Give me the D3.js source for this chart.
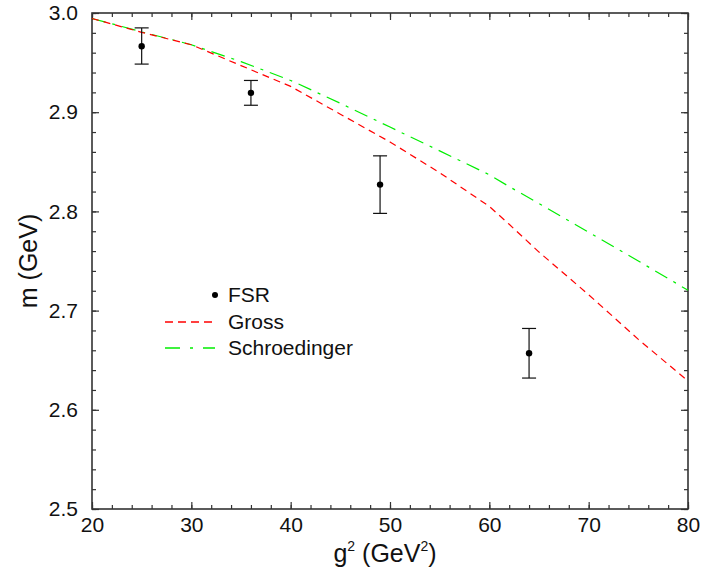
<!DOCTYPE html>
<html><head><meta charset="utf-8">
<script src="https://cdn.jsdelivr.net/npm/d3@7"></script>
<style>body{margin:0;background:#fff;} svg{display:block;font-family:"Liberation Sans",Arial,sans-serif;}</style>
</head><body>
<svg id="c" width="702" height="571"></svg>
<script>
// data
const fsrX = [25, 36, 49, 64];
const fsrY = [2.9665, 2.9195, 2.827, 2.657];
const fsrLo = [2.9485, 2.907, 2.798, 2.632];
const fsrHi = [2.985, 2.932, 2.856, 2.682];
const grossX = [20, 25, 30, 35, 40, 45, 50, 55, 60, 62, 65, 70, 75, 80];
const grossY = [2.9945, 2.9805, 2.968, 2.947, 2.926, 2.898, 2.870, 2.839, 2.805, 2.787, 2.759, 2.716, 2.671, 2.629];
const schX = [20, 25, 30, 35, 40, 45, 50, 55, 60, 62, 65, 70, 75, 80];
const schY = [2.9945, 2.981, 2.968, 2.951, 2.932, 2.909, 2.885, 2.861, 2.837, 2.825, 2.808, 2.779, 2.750, 2.7205];
const xTicks = [20, 30, 40, 50, 60, 70, 80];
const yTicks = [2.5, 2.6, 2.7, 2.8, 2.9, 3.0];
const legendLabels = ["FSR", "Gross", "Schroedinger"];

const svg = d3.select("#c");
const L = 92, R = 688, T = 13, B = 509;
const x = d3.scaleLinear().domain([20, 80]).range([L, R]);
const y = d3.scaleLinear().domain([2.5, 3.0]).range([B, T]);
const axisColor = "#333";
const FONT = '"Liberation Sans",Arial,sans-serif';

// minor ticks
const xMinor = d3.range(20, 80.001, 2);
const yMinor = d3.range(2.5, 3.0001, 0.02);

svg.append("g").attr("transform", `translate(0,${B})`)
  .call(d3.axisBottom(x).tickValues(xMinor).tickSize(-4).tickFormat(""));
svg.append("g").attr("transform", `translate(0,${B})`)
  .call(d3.axisBottom(x).tickValues(xTicks).tickSize(-7).tickPadding(8).tickFormat(d3.format("d")));
svg.append("g").attr("transform", `translate(0,${T})`)
  .call(d3.axisTop(x).tickValues(xMinor).tickSize(-4).tickFormat(""));
svg.append("g").attr("transform", `translate(0,${T})`)
  .call(d3.axisTop(x).tickValues(xTicks).tickSize(-7).tickFormat(""));
svg.append("g").attr("transform", `translate(${L},0)`)
  .call(d3.axisLeft(y).tickValues(yMinor).tickSize(-4).tickFormat(""));
svg.append("g").attr("transform", `translate(${L},0)`)
  .call(d3.axisLeft(y).tickValues(yTicks).tickSize(-7).tickPadding(14).tickFormat(d3.format(".1f")));
svg.append("g").attr("transform", `translate(${R},0)`)
  .call(d3.axisRight(y).tickValues(yMinor).tickSize(-4).tickFormat(""));
svg.append("g").attr("transform", `translate(${R},0)`)
  .call(d3.axisRight(y).tickValues(yTicks).tickSize(-7).tickFormat(""));

svg.selectAll(".domain").remove();
svg.selectAll(".tick line").attr("stroke", axisColor).attr("stroke-width", 1.2);
svg.selectAll(".tick text").attr("font-size", 21).attr("fill", "#111").attr("font-family", FONT);

// frame
svg.append("rect").attr("x", L).attr("y", T).attr("width", R - L).attr("height", B - T)
  .attr("fill", "none").attr("stroke", axisColor).attr("stroke-width", 1.6);

// curves
const line = d3.line().x(d => x(d[0])).y(d => y(d[1]));
svg.append("path").datum(schX.map((v, i) => [v, schY[i]]))
  .attr("d", line).attr("fill", "none").attr("stroke", "#00ee00").attr("stroke-width", 1.2)
  .attr("stroke-dasharray", "14,7,3,7");
svg.append("path").datum(grossX.map((v, i) => [v, grossY[i]]))
  .attr("d", line).attr("fill", "none").attr("stroke", "#ff0000").attr("stroke-width", 1.2)
  .attr("stroke-dasharray", "7,5");

// FSR points with error bars
const pts = fsrX.map((v, i) => ({x: v, y: fsrY[i], lo: fsrLo[i], hi: fsrHi[i]}));
const eg = svg.append("g").attr("stroke", "#111").attr("stroke-width", 1.2);
pts.forEach(p => {
  eg.append("line").attr("x1", x(p.x)).attr("x2", x(p.x)).attr("y1", y(p.lo)).attr("y2", y(p.hi));
  eg.append("line").attr("x1", x(p.x) - 7).attr("x2", x(p.x) + 7).attr("y1", y(p.lo)).attr("y2", y(p.lo));
  eg.append("line").attr("x1", x(p.x) - 7).attr("x2", x(p.x) + 7).attr("y1", y(p.hi)).attr("y2", y(p.hi));
});
svg.append("g").selectAll("circle").data(pts).join("circle")
  .attr("cx", d => x(d.x)).attr("cy", d => y(d.y)).attr("r", 3.2).attr("fill", "#000");

// legend
const lg = svg.append("g");
const lx = 228, ly = [295, 322, 348];
lg.append("circle").attr("cx", 215).attr("cy", ly[0]).attr("r", 3).attr("fill", "#000");
lg.append("line").attr("x1", 165).attr("x2", 215).attr("y1", ly[1]).attr("y2", ly[1])
  .attr("stroke", "#ff0000").attr("stroke-width", 1.3).attr("stroke-dasharray", "8,5");
lg.append("line").attr("x1", 165).attr("x2", 215).attr("y1", ly[2]).attr("y2", ly[2])
  .attr("stroke", "#00ee00").attr("stroke-width", 1.3).attr("stroke-dasharray", "15,10,3,10");
legendLabels.forEach((t, i) => {
  lg.append("text").attr("x", lx).attr("y", ly[i]).attr("dy", "0.35em")
    .attr("font-size", 21).attr("fill", "#111").attr("font-family", FONT).text(t);
});

// axis titles
svg.append("text").attr("transform", `translate(37,261) rotate(-90)`)
  .attr("text-anchor", "middle").attr("font-size", 25).attr("fill", "#111").text("m (GeV)");
const xt = svg.append("text").attr("x", 385).attr("y", 562)
  .attr("text-anchor", "middle").attr("font-size", 25).attr("fill", "#111");
xt.append("tspan").text("g");
xt.append("tspan").attr("font-size", 14).attr("dy", -11).text("2");
xt.append("tspan").attr("dy", 11).text(" (GeV");
xt.append("tspan").attr("font-size", 14).attr("dy", -11).text("2");
xt.append("tspan").attr("dy", 11).text(")");
</script>
</body></html>
